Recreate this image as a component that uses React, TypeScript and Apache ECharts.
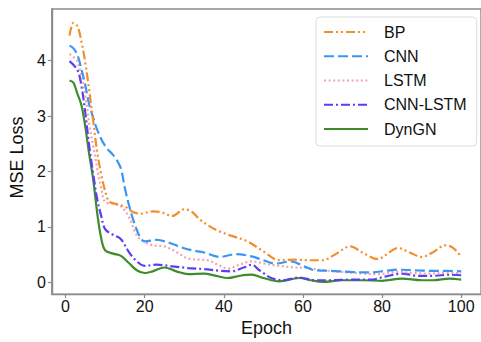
import React, { useEffect, useRef } from "react";
import * as echarts from "echarts";

const seriesNames = ["BP", "CNN", "LSTM", "CNN-LSTM", "DynGN"];

const bpData: [number, number][] = [
  [1, 4.45], [2, 4.68], [3, 4.62], [4, 4.35], [5, 3.95], [6, 3.45], [7, 2.9], [8, 2.35], [9, 1.95],
  [10, 1.65], [11, 1.46], [13, 1.41], [15, 1.37], [17, 1.27], [19, 1.24], [22, 1.28], [24, 1.27],
  [27, 1.2], [30, 1.32], [32, 1.27], [34, 1.13], [38, 0.95], [42, 0.84], [46, 0.74], [50, 0.56],
  [54, 0.4], [58, 0.41], [62, 0.4], [65, 0.4], [68, 0.5], [72, 0.65], [75, 0.54], [79, 0.42],
  [81, 0.5], [84, 0.62], [87, 0.54], [90, 0.46], [93, 0.55], [96, 0.67], [98, 0.62], [100, 0.46],
];

const cnnData: [number, number][] = [
  [1, 4.27], [2, 4.22], [3, 4.1], [4, 3.85], [5, 3.55], [6, 3.2], [7, 2.97], [8, 2.75], [10, 2.46],
  [12, 2.3], [13, 2.2], [14, 2.05], [15, 1.7], [16, 1.4], [17, 1.15], [18, 0.95], [19, 0.8],
  [20, 0.74], [23, 0.77], [26, 0.72], [29, 0.64], [32, 0.58], [35, 0.54], [39, 0.46], [43, 0.51],
  [47, 0.47], [50, 0.4], [53, 0.34], [57, 0.38], [60, 0.3], [63, 0.22], [67, 0.21], [72, 0.19],
  [77, 0.18], [81, 0.21], [84, 0.23], [88, 0.22], [92, 0.21], [96, 0.21], [100, 0.2],
];

const lstmData: [number, number][] = [
  [1, 4.12], [3, 3.98], [5, 3.35], [6, 2.85], [7, 2.45], [8, 2.05], [9, 1.7], [10, 1.45], [12, 1.42],
  [14, 1.37], [16, 1.18], [18, 0.85], [20, 0.73], [22, 0.67], [25, 0.65], [28, 0.55], [31, 0.43],
  [34, 0.41], [36, 0.4], [39, 0.3], [41, 0.25], [44, 0.32], [47, 0.38], [51, 0.33], [54, 0.3],
  [58, 0.27], [61, 0.26], [65, 0.22], [70, 0.19], [75, 0.16], [79, 0.15], [84, 0.19], [88, 0.17],
  [92, 0.16], [96, 0.17], [100, 0.17],
];

const cnnLstmData: [number, number][] = [
  [1, 3.99], [3, 3.83], [4, 3.55], [5, 3.05], [6, 2.45], [7, 1.95], [8, 1.5], [9, 1.2], [10, 0.96],
  [12, 0.86], [14, 0.78], [16, 0.55], [18, 0.38], [20, 0.3], [23, 0.32], [27, 0.29], [31, 0.26],
  [35, 0.24], [39, 0.21], [42, 0.2], [45, 0.27], [47, 0.32], [49, 0.22], [52, 0.08], [55, 0.04],
  [59, 0.09], [63, 0.04], [67, 0.04], [72, 0.05], [77, 0.05], [81, 0.11], [85, 0.16], [89, 0.12],
  [93, 0.12], [97, 0.14], [100, 0.13],
];

const dynGNData: [number, number][] = [
  [1, 3.64], [2, 3.6], [3, 3.4], [4, 3.2], [5, 2.8], [6, 2.3], [7, 1.85], [8, 1.25], [9, 0.8],
  [10, 0.58], [12, 0.52], [14, 0.48], [16, 0.35], [18, 0.22], [20, 0.17], [22, 0.2], [25, 0.27],
  [28, 0.2], [31, 0.15], [35, 0.16], [38, 0.12], [41, 0.08], [44, 0.12], [47, 0.14], [50, 0.08],
  [54, 0.02], [59, 0.08], [62, 0.04], [65, 0.01], [70, 0.04], [75, 0.04], [80, 0.03], [85, 0.07],
  [90, 0.04], [93, 0.04], [97, 0.07], [100, 0.05],
];

const xTicks = [0, 20, 40, 60, 80, 100];
const yTicks = [0, 1, 2, 3, 4];

const colors = ["#F28E2B", "#3A95F4", "#F4A3AD", "#5C3DF7", "#3E8C2C"];
const dashes: (number[] | "solid")[] = [
  [9, 3, 2, 3, 2, 3],
  [10, 4],
  [2, 2.6],
  [9, 3, 2, 3],
  "solid",
];

export default function App() {
  const ref = useRef<HTMLDivElement>(null);
  useEffect(() => {
    if (!ref.current) return;
    const chart = echarts.init(ref.current, null, { renderer: "svg" });
    const datas = [bpData, cnnData, lstmData, cnnLstmData, dynGNData];
    const tickFont = "'Liberation Sans', Arial, sans-serif";
    chart.setOption({
      animation: false,
      backgroundColor: "#ffffff",
      grid: {
        left: 49,
        top: 9,
        width: 436,
        height: 293,
        show: true,
        borderColor: "#8a8a8a",
        borderWidth: 1.4,
        containLabel: false,
      },
      legend: {
        orient: "vertical",
        left: 316,
        top: 17,
        padding: [7, 10, 9, 7],
        itemWidth: 44,
        itemHeight: 16,
        itemGap: 8.25,
        backgroundColor: "#ffffff",
        borderColor: "#dcdcdc",
        borderWidth: 1,
        borderRadius: 4,
        itemStyle: { opacity: 0, borderWidth: 0 },
        textStyle: {
          fontFamily: tickFont,
          fontSize: 16,
          color: "#111",
          lineHeight: 16,
          padding: [0, 0, 0, 11],
        },
        data: seriesNames,
      },
      xAxis: {
        type: "value",
        min: -3.48,
        max: 105,
        name: "Epoch",
        nameLocation: "middle",
        nameGap: 19,
        nameTextStyle: { fontFamily: tickFont, fontSize: 18, color: "#111" },
        splitLine: { show: false },
        axisLine: { show: true, onZero: false, lineStyle: { color: "#8a8a8a", width: 1.4 } },
        axisTick: {
          show: true,
          length: 4,
          inside: false,
          customValues: xTicks,
          lineStyle: { color: "#8a8a8a", width: 1.2 },
        },
        axisLabel: {
          customValues: xTicks,
          margin: 4,
          fontFamily: tickFont,
          fontSize: 16,
          color: "#111",
        },
      },
      yAxis: {
        type: "value",
        min: -0.21,
        max: 4.93,
        name: "MSE Loss",
        nameLocation: "middle",
        nameGap: 22,
        nameTextStyle: { fontFamily: tickFont, fontSize: 18, color: "#111", padding: [0, 12, 0, 0] },
        splitLine: { show: false },
        axisLine: { show: true, onZero: false, lineStyle: { color: "#8a8a8a", width: 1.4 } },
        axisTick: {
          show: true,
          length: 4,
          inside: false,
          customValues: yTicks,
          lineStyle: { color: "#8a8a8a", width: 1.2 },
        },
        axisLabel: {
          customValues: yTicks,
          margin: 6,
          fontFamily: tickFont,
          fontSize: 16,
          color: "#111",
        },
      },
      series: seriesNames.map((name, i) => ({
        name,
        type: "line",
        data: datas[i],
        smooth: 0.35,
        symbol: "none",
        lineStyle: { color: colors[i], width: 2.2, type: dashes[i] },
        itemStyle: { color: colors[i] },
        z: 10 - i,
      })),
    });
    return () => chart.dispose();
  }, []);
  return (
    <div
      ref={ref}
      style={{ position: "absolute", left: 0, top: 0, width: 481, height: 342, background: "#fff" }}
    />
  );
}
